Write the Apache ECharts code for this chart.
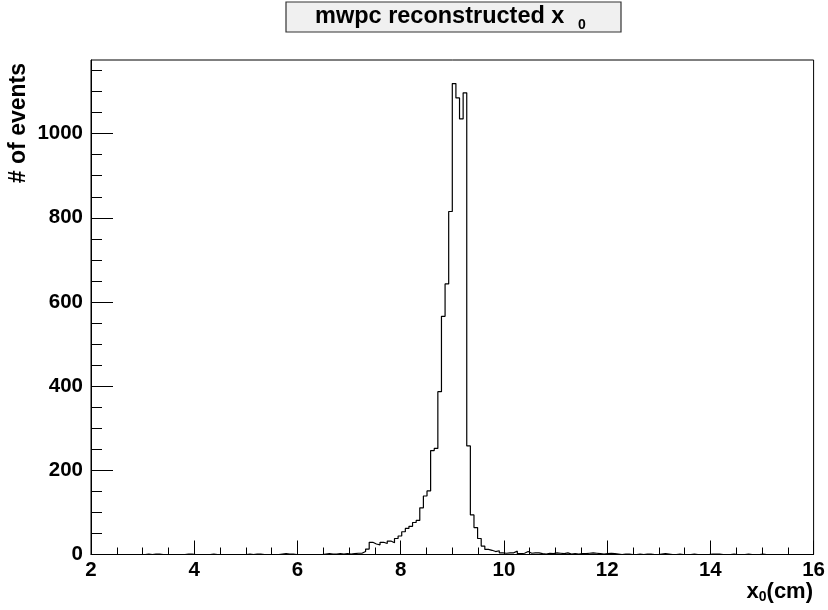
<!DOCTYPE html>
<html><head><meta charset="utf-8">
<script src="https://cdn.jsdelivr.net/npm/echarts@6/dist/echarts.min.js"></script>
<style>html,body{margin:0;padding:0;background:#fff}#c{width:828px;height:610px}</style>
</head><body><div id="c"></div>
<script>
const xMin = 2, xMax = 16, binWidth = 0.07;
const counts = [
  0,0,0,0,0,0,0,0,0,0,
  0,0,0,0,0,1,0,1,1,0,
  0,0,0,0,0,0,1,1,0,0,
  0,0,0,1,0,0,0,0,0,0,
  0,0,0,1,0,1,1,0,0,0,
  0,0,1,2,1,1,0,0,0,0,
  0,0,0,0,1,2,1,1,2,1,
  2,1,2,3,3,7,13,29,25,23,
  29,26,32,28,38,44,54,62,67,76,
  81,111,139,151,247,252,387,566,643,815,
  1119,1085,1035,1097,258,94,64,38,20,12,
  10,7,9,4,3,4,4,8,2,3,
  7,3,4,4,2,1,3,2,4,3,
  2,4,1,2,1,2,2,3,4,3,
  2,1,2,3,2,1,0,1,1,0,
  0,1,0,1,1,0,0,1,2,1,
  0,0,1,0,0,0,1,0,0,0,
  0,1,1,1,0,0,0,1,0,0,
  0,1,0,0,0,1,0,0,0,0,
  0,0,0,0,0,0,0,0,0,0
];
const xTicks = [2,4,6,8,10,12,14,16];
const yMajorTicks = [0,200,400,600,800,1000];
const yMinorTicks = [50,100,150,250,300,350,450,500,550,650,700,750,850,900,950,1050,1100,1150];
const yMax = 1175;
const titleMain = 'mwpc reconstructed x';
const titleSub = '0';
const yTitle = '# of events';

const points = counts.map((c,i)=>[+(xMin + i*binWidth).toFixed(2), c]);
points.push([xMax, counts[counts.length-1]]);

const FONT = '"Liberation Sans", Arial, Helvetica, sans-serif';
const plain = v => String(v);
const chart = echarts.init(document.getElementById('c'), null, {renderer:'canvas'});
chart.setOption({
  animation:false,
  backgroundColor:'#fff',
  grid:{left:91,right:12,top:60,bottom:55.5,show:true,borderColor:'#000',borderWidth:1,backgroundColor:'transparent'},
  xAxis:{type:'value',min:xMin,max:xMax,interval:2,
    axisLine:{lineStyle:{color:'#000',width:1}},
    axisTick:{inside:true,length:14,lineStyle:{color:'#000',width:1},customValues:xTicks},
    minorTick:{show:true,splitNumber:4,length:7,lineStyle:{color:'#000',width:1}},
    axisLabel:{color:'#000',fontWeight:'bold',fontSize:20.5,fontFamily:FONT,margin:5,customValues:xTicks,formatter:plain},
    splitLine:{show:false},minorSplitLine:{show:false}},
  yAxis:[
    {type:'value',min:0,max:yMax,position:'left',
     axisLine:{show:true,lineStyle:{color:'#000',width:1}},
     axisTick:{inside:true,length:22,lineStyle:{color:'#000',width:1},customValues:yMajorTicks},
     axisLabel:{color:'#000',fontWeight:'bold',fontSize:20.5,fontFamily:FONT,margin:8,customValues:yMajorTicks,formatter:plain},
     splitLine:{show:false}},
    {type:'value',min:0,max:yMax,position:'left',offset:0,
     axisLine:{show:false},
     axisTick:{inside:true,length:11,lineStyle:{color:'#000',width:1},customValues:yMinorTicks},
     axisLabel:{show:false},
     splitLine:{show:false}}
  ],
  series:[{type:'line',step:'end',data:points,symbol:'none',xAxisIndex:0,yAxisIndex:0,
    lineStyle:{color:'#000',width:1.2},silent:true}],
  graphic:[
    {type:'rect',shape:{x:286,y:2,width:335,height:30},style:{fill:'#f0f0f0',stroke:'#333',lineWidth:1.2}},
    {type:'text',x:315,y:17,style:{
      text:titleMain,align:'left',verticalAlign:'middle',
      font:'bold 23.5px '+FONT,fill:'#000'}},
    {type:'text',x:578,y:25,style:{
      text:titleSub,align:'left',verticalAlign:'middle',
      font:'bold 14px '+FONT,fill:'#000'}},
    {type:'text',x:19,y:63,rotation:Math.PI/2,style:{
      text:yTitle,align:'right',verticalAlign:'middle',
      font:'bold 23px '+FONT,fill:'#000'}},
    {type:'text',x:813,y:592,style:{
      text:'{m|x}{s|0}{m|(cm)}',align:'right',verticalAlign:'middle',
      rich:{m:{fontSize:22,fontWeight:'bold',fontFamily:FONT,color:'#000'},
            s:{fontSize:14,fontWeight:'bold',fontFamily:FONT,color:'#000',padding:[11,0,0,0]}}
    }}
  ]
});
</script></body></html>
